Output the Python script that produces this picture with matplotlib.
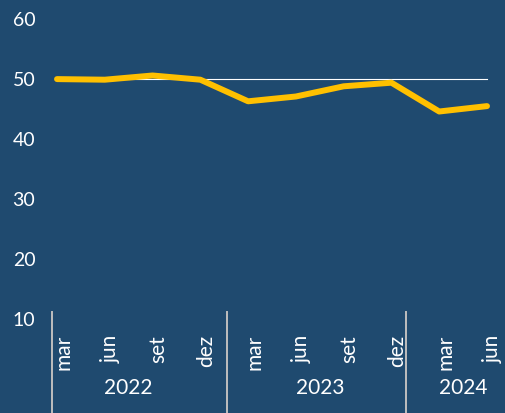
import matplotlib.pyplot as plt
import matplotlib.transforms as mtransforms

months = ['mar', 'jun', 'set', 'dez', 'mar', 'jun', 'set', 'dez', 'mar', 'jun']
years = ['2022', '2023', '2024']
year_centers = [1.5, 5.5, 8.5]
year_breaks = [-0.1, 3.55, 7.3]
values = [49.9, 49.8, 50.5, 49.8, 46.2, 47.0, 48.7, 49.3, 44.5, 45.4]
ref_value = 50
yticks = [10, 20, 30, 40, 50, 60]

bg = '#1F4A6F'
txt = '#FFFFFF'
plt.rcParams['font.family'] = ['Lato', 'DejaVu Sans']

fig = plt.figure(figsize=(5.05, 4.14), dpi=100, facecolor=bg)
ax = fig.add_axes([52 / 505, 1 - 319.5 / 414, 438 / 505, 300 / 414])
ax.set_facecolor(bg)

x = list(range(len(values)))
ax.plot([x[0], x[-1]], [ref_value, ref_value], color='white', lw=0.8, zorder=2)
ax.plot(x, values, color='#FFC000', lw=4.3, solid_capstyle='round', zorder=3)

ax.set_xlim(-0.105, 9.063)
ax.set_ylim(10, 60)
ax.set_yticks(yticks)
ax.set_yticklabels([str(t) for t in yticks], color=txt, fontsize=14)
ax.tick_params(axis='y', length=0, pad=12)

ax.set_xticks(x)
ax.set_xticklabels(months, rotation=90, color=txt, fontsize=15, va='top')
ax.tick_params(axis='x', length=0, pad=11)
shift = mtransforms.ScaledTranslation(6 / 100, 0, fig.dpi_scale_trans)
for lab in ax.get_xticklabels():
    lab.set_transform(lab.get_transform() + shift)

for s in ax.spines.values():
    s.set_visible(False)

trans = mtransforms.blended_transform_factory(ax.transData, fig.transFigure)
for xb in year_breaks:
    ax.plot([xb, xb], [1 - 313 / 414, 0], color='#BFBFBF', lw=1.4,
            transform=trans, clip_on=False)
for xc, yr in zip(year_centers, years):
    ax.text(xc, 1 - 388 / 414, yr, color=txt, fontsize=15, ha='center',
            va='center', transform=trans)

fig.savefig('out.png', dpi=100, facecolor=bg)
